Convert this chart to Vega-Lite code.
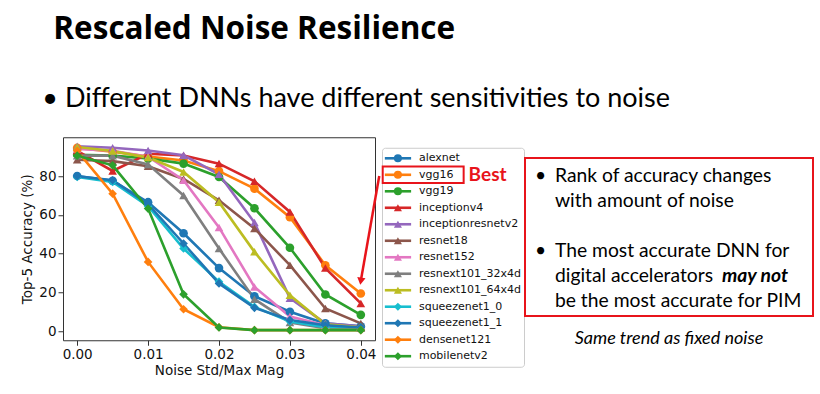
{
"$schema": "https://vega.github.io/schema/vega-lite/v6.json",
"background": "white",
"padding": {"left": 20, "top": 14, "right": 5, "bottom": 5},
"title": {"text": "Rescaled Noise Resilience", "anchor": "start", "frame": "bounds", "dx": 33, "font": "Open Sans", "fontSize": 31.5, "fontWeight": "bold", "color": "black", "offset": 39},
"config": {"view": {"stroke": null}, "font": "DejaVu Sans"},
"datasets": {
"acc": [
{"model":"alexnet","noise":0,"acc":80},{"model":"alexnet","noise":0.005,"acc":77.5},{"model":"alexnet","noise":0.01,"acc":66.5},{"model":"alexnet","noise":0.015,"acc":50.5},{"model":"alexnet","noise":0.02,"acc":32.5},{"model":"alexnet","noise":0.025,"acc":18},{"model":"alexnet","noise":0.03,"acc":10},{"model":"alexnet","noise":0.035,"acc":4},{"model":"alexnet","noise":0.04,"acc":2.5},
{"model":"vgg16","noise":0,"acc":94.5},{"model":"vgg16","noise":0.005,"acc":92.5},{"model":"vgg16","noise":0.01,"acc":90},{"model":"vgg16","noise":0.015,"acc":88},{"model":"vgg16","noise":0.02,"acc":82.5},{"model":"vgg16","noise":0.025,"acc":73.5},{"model":"vgg16","noise":0.03,"acc":58.8},{"model":"vgg16","noise":0.035,"acc":34},{"model":"vgg16","noise":0.04,"acc":19.4},
{"model":"vgg19","noise":0,"acc":91},{"model":"vgg19","noise":0.005,"acc":90.5},{"model":"vgg19","noise":0.01,"acc":89},{"model":"vgg19","noise":0.015,"acc":86.4},{"model":"vgg19","noise":0.02,"acc":79.5},{"model":"vgg19","noise":0.025,"acc":63.4},{"model":"vgg19","noise":0.03,"acc":43},{"model":"vgg19","noise":0.035,"acc":18.9},{"model":"vgg19","noise":0.04,"acc":8.4},
{"model":"inceptionv4","noise":0,"acc":93},{"model":"inceptionv4","noise":0.005,"acc":82.6},{"model":"inceptionv4","noise":0.01,"acc":91.5},{"model":"inceptionv4","noise":0.015,"acc":90.6},{"model":"inceptionv4","noise":0.02,"acc":86.4},{"model":"inceptionv4","noise":0.025,"acc":77.3},{"model":"inceptionv4","noise":0.03,"acc":61.5},{"model":"inceptionv4","noise":0.035,"acc":32.5},{"model":"inceptionv4","noise":0.04,"acc":14.3},
{"model":"inceptionresnetv2","noise":0,"acc":95.3},{"model":"inceptionresnetv2","noise":0.005,"acc":94.6},{"model":"inceptionresnetv2","noise":0.01,"acc":93.2},{"model":"inceptionresnetv2","noise":0.015,"acc":90.7},{"model":"inceptionresnetv2","noise":0.02,"acc":80.9},{"model":"inceptionresnetv2","noise":0.025,"acc":56},{"model":"inceptionresnetv2","noise":0.03,"acc":17},{"model":"inceptionresnetv2","noise":0.035,"acc":4},{"model":"inceptionresnetv2","noise":0.04,"acc":2.5},
{"model":"resnet18","noise":0,"acc":88.4},{"model":"resnet18","noise":0.005,"acc":87.7},{"model":"resnet18","noise":0.01,"acc":85},{"model":"resnet18","noise":0.015,"acc":78.5},{"model":"resnet18","noise":0.02,"acc":67.5},{"model":"resnet18","noise":0.025,"acc":53},{"model":"resnet18","noise":0.03,"acc":34},{"model":"resnet18","noise":0.035,"acc":11.7},{"model":"resnet18","noise":0.04,"acc":4},
{"model":"resnet152","noise":0,"acc":94},{"model":"resnet152","noise":0.005,"acc":93},{"model":"resnet152","noise":0.01,"acc":90},{"model":"resnet152","noise":0.015,"acc":77.8},{"model":"resnet152","noise":0.02,"acc":53.5},{"model":"resnet152","noise":0.025,"acc":22.8},{"model":"resnet152","noise":0.03,"acc":7.5},{"model":"resnet152","noise":0.035,"acc":3},{"model":"resnet152","noise":0.04,"acc":2},
{"model":"resnext101_32x4d","noise":0,"acc":90.5},{"model":"resnext101_32x4d","noise":0.005,"acc":90.5},{"model":"resnext101_32x4d","noise":0.01,"acc":86},{"model":"resnext101_32x4d","noise":0.015,"acc":70},{"model":"resnext101_32x4d","noise":0.02,"acc":42.6},{"model":"resnext101_32x4d","noise":0.025,"acc":16.5},{"model":"resnext101_32x4d","noise":0.03,"acc":4.5},{"model":"resnext101_32x4d","noise":0.035,"acc":1.5},{"model":"resnext101_32x4d","noise":0.04,"acc":1.5},
{"model":"resnext101_64x4d","noise":0,"acc":95},{"model":"resnext101_64x4d","noise":0.005,"acc":92.9},{"model":"resnext101_64x4d","noise":0.01,"acc":89.5},{"model":"resnext101_64x4d","noise":0.015,"acc":82.1},{"model":"resnext101_64x4d","noise":0.02,"acc":66.5},{"model":"resnext101_64x4d","noise":0.025,"acc":40.9},{"model":"resnext101_64x4d","noise":0.03,"acc":18.5},{"model":"resnext101_64x4d","noise":0.035,"acc":3.5},{"model":"resnext101_64x4d","noise":0.04,"acc":2},
{"model":"squeezenet1_0","noise":0,"acc":79.5},{"model":"squeezenet1_0","noise":0.005,"acc":76.9},{"model":"squeezenet1_0","noise":0.01,"acc":64.4},{"model":"squeezenet1_0","noise":0.015,"acc":42.6},{"model":"squeezenet1_0","noise":0.02,"acc":25.5},{"model":"squeezenet1_0","noise":0.025,"acc":12.5},{"model":"squeezenet1_0","noise":0.03,"acc":5},{"model":"squeezenet1_0","noise":0.035,"acc":2},{"model":"squeezenet1_0","noise":0.04,"acc":2},
{"model":"squeezenet1_1","noise":0,"acc":79.9},{"model":"squeezenet1_1","noise":0.005,"acc":77.8},{"model":"squeezenet1_1","noise":0.01,"acc":65.5},{"model":"squeezenet1_1","noise":0.015,"acc":45.2},{"model":"squeezenet1_1","noise":0.02,"acc":24.6},{"model":"squeezenet1_1","noise":0.025,"acc":12},{"model":"squeezenet1_1","noise":0.03,"acc":5.7},{"model":"squeezenet1_1","noise":0.035,"acc":3},{"model":"squeezenet1_1","noise":0.04,"acc":1.9},
{"model":"densenet121","noise":0,"acc":93},{"model":"densenet121","noise":0.005,"acc":70.9},{"model":"densenet121","noise":0.01,"acc":35.7},{"model":"densenet121","noise":0.015,"acc":11.3},{"model":"densenet121","noise":0.02,"acc":2},{"model":"densenet121","noise":0.025,"acc":0.5},{"model":"densenet121","noise":0.03,"acc":0.5},{"model":"densenet121","noise":0.035,"acc":0.5},{"model":"densenet121","noise":0.04,"acc":0.5},
{"model":"mobilenetv2","noise":0,"acc":90.5},{"model":"mobilenetv2","noise":0.005,"acc":85.5},{"model":"mobilenetv2","noise":0.01,"acc":63.2},{"model":"mobilenetv2","noise":0.015,"acc":19},{"model":"mobilenetv2","noise":0.02,"acc":1.9},{"model":"mobilenetv2","noise":0.025,"acc":0.5},{"model":"mobilenetv2","noise":0.03,"acc":0.5},{"model":"mobilenetv2","noise":0.035,"acc":0.5},{"model":"mobilenetv2","noise":0.04,"acc":0.5}
],
"models": [
{"model":"alexnet"},{"model":"vgg16","note":"Best"},{"model":"vgg19"},{"model":"inceptionv4"},{"model":"inceptionresnetv2"},{"model":"resnet18"},{"model":"resnet152"},{"model":"resnext101_32x4d"},{"model":"resnext101_64x4d"},{"model":"squeezenet1_0"},{"model":"squeezenet1_1"},{"model":"densenet121"},{"model":"mobilenetv2"}
],
"notes": [
{"line":1,"text":"Rank of accuracy changes","bullet":"•"},
{"line":2,"text":"with amount of noise"},
{"line":4,"text":"The most accurate DNN for","bullet":"•"},
{"line":5,"text":"digital accelerators","emph":"may not"},
{"line":6,"text":"be the most accurate for PIM"}
]
},
"vconcat": [
{
"title": {"text": "• Different DNNs have different sensitivities to noise", "anchor": "start", "frame": "bounds", "dx": 22, "font": "Lato", "fontSize": 27, "fontWeight": "normal", "color": "black", "offset": 24},
"spacing": -3,
"center": true,
"hconcat": [
{
"width": 312, "height": 203,
"view": {"stroke": "#333333", "strokeWidth": 1},
"layer": [
{"data": {"name": "acc"},
"mark": {"type": "line", "strokeWidth": 2.6},
"encoding": {
"x": {"field": "noise", "type": "quantitative", "scale": {"domain": [-0.002, 0.042], "nice": false, "zero": false},
"axis": {"title": "Noise Std/Max Mag", "values": [0, 0.01, 0.02, 0.03, 0.04], "format": ".2f", "grid": false, "domain": false, "tickSize": 5, "tickColor": "#333333", "labelPadding": 2, "labelFontSize": 13.5, "labelColor": "#111111", "titleFontSize": 13.5, "titleFontWeight": "normal", "titleColor": "#111111", "titlePadding": 3, "labelFont": "DejaVu Sans", "titleFont": "DejaVu Sans"}},
"y": {"field": "acc", "type": "quantitative", "scale": {"domain": [-4.7, 100], "nice": false, "zero": false},
"axis": {"title": "Top-5 Accuracy (%)", "values": [0, 20, 40, 60, 80], "grid": false, "domain": false, "tickSize": 5, "tickColor": "#333333", "labelPadding": 2, "labelFontSize": 13.5, "labelColor": "#111111", "titleFontSize": 13.5, "titleFontWeight": "normal", "titleColor": "#111111", "titlePadding": 4, "labelFont": "DejaVu Sans", "titleFont": "DejaVu Sans"}},
"color": {"field": "model", "type": "nominal", "legend": null,
"scale": {"domain": ["alexnet","vgg16","vgg19","inceptionv4","inceptionresnetv2","resnet18","resnet152","resnext101_32x4d","resnext101_64x4d","squeezenet1_0","squeezenet1_1","densenet121","mobilenetv2"],
"range": ["#1f77b4","#ff7f0e","#2ca02c","#d62728","#9467bd","#8c564b","#e377c2","#7f7f7f","#bcbd22","#17becf","#1f77b4","#ff7f0e","#2ca02c"]}}
}},
{"data": {"name": "acc"},
"mark": {"type": "point", "filled": true, "size": 75, "opacity": 1},
"encoding": {
"x": {"field": "noise", "type": "quantitative"},
"y": {"field": "acc", "type": "quantitative"},
"color": {"field": "model", "type": "nominal", "legend": null},
"shape": {"field": "model", "type": "nominal", "legend": null,
"scale": {"domain": ["alexnet","vgg16","vgg19","inceptionv4","inceptionresnetv2","resnet18","resnet152","resnext101_32x4d","resnext101_64x4d","squeezenet1_0","squeezenet1_1","densenet121","mobilenetv2"],
"range": ["circle","circle","circle","triangle-up","triangle-up","triangle-up","triangle-up","triangle-up","triangle-up","diamond","diamond","diamond","diamond"]}}
}},
{"data": {"values": [{}]},
"mark": {"type": "rule", "color": "#e8141b", "strokeWidth": 2.5, "clip": false},
"encoding": {"x": {"datum": 0.0426, "type": "quantitative"}, "y": {"datum": 80, "type": "quantitative"}, "x2": {"datum": 0.04}, "y2": {"datum": 26}}},
{"data": {"values": [{}]},
"mark": {"type": "point", "shape": "triangle-down", "filled": true, "color": "#e8141b", "size": 70, "angle": 9, "opacity": 1, "clip": false},
"encoding": {"x": {"datum": 0.04, "type": "quantitative"}, "y": {"datum": 25.8, "type": "quantitative"}}}
]
},
{
"width": 142, "height": 219,
"view": {"stroke": "#cccccc", "strokeWidth": 1, "cornerRadius": 3},
"data": {"name": "models"},
"encoding": {
"y": {"field": "model", "type": "nominal", "axis": null,
"scale": {"type": "band", "paddingInner": 0, "paddingOuter": 0.14,
"domain": ["alexnet","vgg16","vgg19","inceptionv4","inceptionresnetv2","resnet18","resnet152","resnext101_32x4d","resnext101_64x4d","squeezenet1_0","squeezenet1_1","densenet121","mobilenetv2"]}}
},
"layer": [
{"transform": [{"filter": "datum.note == 'Best'"}],
"mark": {"type": "rect", "fill": null, "stroke": "#e8141b", "strokeWidth": 2},
"encoding": {"x": {"datum": 0.005, "type": "quantitative", "scale": {"domain": [0, 1]}, "axis": null}, "x2": {"datum": 0.575}}},
{"mark": {"type": "rule", "strokeWidth": 2.6},
"encoding": {"x": {"datum": 0.02, "type": "quantitative"}, "x2": {"datum": 0.205},
"color": {"field": "model", "type": "nominal", "legend": null,
"scale": {"domain": ["alexnet","vgg16","vgg19","inceptionv4","inceptionresnetv2","resnet18","resnet152","resnext101_32x4d","resnext101_64x4d","squeezenet1_0","squeezenet1_1","densenet121","mobilenetv2"],
"range": ["#1f77b4","#ff7f0e","#2ca02c","#d62728","#9467bd","#8c564b","#e377c2","#7f7f7f","#bcbd22","#17becf","#1f77b4","#ff7f0e","#2ca02c"]}}}},
{"mark": {"type": "point", "filled": true, "size": 65, "opacity": 1},
"encoding": {"x": {"datum": 0.112, "type": "quantitative"},
"color": {"field": "model", "type": "nominal", "legend": null},
"shape": {"field": "model", "type": "nominal", "legend": null,
"scale": {"domain": ["alexnet","vgg16","vgg19","inceptionv4","inceptionresnetv2","resnet18","resnet152","resnext101_32x4d","resnext101_64x4d","squeezenet1_0","squeezenet1_1","densenet121","mobilenetv2"],
"range": ["circle","circle","circle","triangle-up","triangle-up","triangle-up","triangle-up","triangle-up","triangle-up","diamond","diamond","diamond","diamond"]}}}},
{"mark": {"type": "text", "align": "left", "baseline": "middle", "font": "DejaVu Sans", "fontSize": 11, "color": "#111111"},
"encoding": {"x": {"datum": 0.26, "type": "quantitative"}, "text": {"field": "model"}}},
{"transform": [{"filter": "datum.note == 'Best'"}],
"mark": {"type": "text", "align": "left", "baseline": "middle", "font": "Lato", "fontWeight": "bold", "fontSize": 19, "color": "#e8141b"},
"encoding": {"x": {"datum": 0.61, "type": "quantitative"}, "text": {"field": "note"}}}
]
},
{
"width": 288, "height": 158,
"view": {"stroke": "#e8141b", "strokeWidth": 2},
"title": {"text": "Same trend as fixed noise", "subtitle": " ", "subtitleFontSize": 8, "subtitlePadding": 0, "orient": "bottom", "anchor": "middle", "font": "Lato", "fontStyle": "italic", "fontWeight": "normal", "fontSize": 18, "color": "black", "offset": 14},
"data": {"name": "notes"},
"encoding": {
"y": {"field": "line", "type": "quantitative", "axis": null, "scale": {"domain": [0.04, 6.36], "reverse": true, "nice": false, "zero": false}}
},
"layer": [
{"mark": {"type": "text", "align": "left", "baseline": "alphabetic", "font": "Lato", "fontSize": 19.3, "color": "black"},
"encoding": {"x": {"datum": 0.104, "type": "quantitative", "scale": {"domain": [0, 1]}, "axis": null}, "text": {"field": "text"}}},
{"transform": [{"filter": "isValid(datum.bullet)"}],
"mark": {"type": "text", "align": "left", "baseline": "alphabetic", "font": "Lato", "fontSize": 19.3, "color": "black"},
"encoding": {"x": {"datum": 0.035, "type": "quantitative"}, "text": {"field": "bullet"}}},
{"transform": [{"filter": "isValid(datum.emph)"}],
"mark": {"type": "text", "align": "left", "baseline": "alphabetic", "font": "Lato", "fontSize": 19.3, "fontStyle": "italic", "fontWeight": "bold", "color": "black"},
"encoding": {"x": {"datum": 0.684, "type": "quantitative"}, "text": {"field": "emph"}}}
]
}
]
}
]
}
